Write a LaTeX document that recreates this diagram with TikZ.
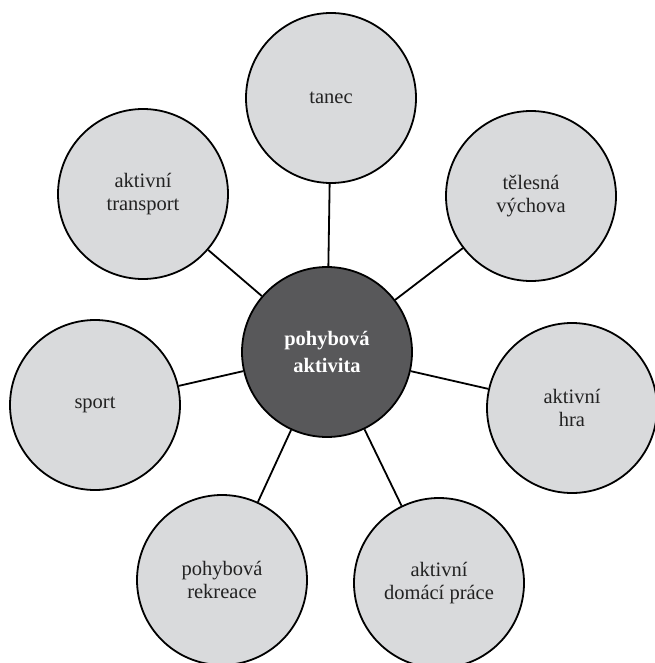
\documentclass[tikz,border=0pt]{standalone}
\usepackage{fontspec}
\setmainfont{Liberation Serif}
\definecolor{outerfill}{HTML}{D9DADC}
\definecolor{centerfill}{HTML}{58585A}
\definecolor{txt}{HTML}{222222}
\begin{document}
\begin{tikzpicture}[x=1pt,y=-1pt,
  bubble/.style={circle,draw=black,line width=1.8pt,fill=outerfill,minimum size=170pt,inner sep=0pt,
    align=center,font=\fontsize{20.5}{22.5}\selectfont,text=txt},
  hub/.style={bubble,fill=centerfill,text=white,font=\fontsize{20.5}{27}\selectfont\bfseries},
  link/.style={line width=1.8pt,draw=black}]
\useasboundingbox (0,0) rectangle (654,663);
\node[hub] (c) at (327,352) {pohybová\\aktivita};
\node[bubble] (tanec) at (331,98) {tanec};
\node[bubble] (tv) at (531,196) {tělesná\\výchova};
\node[bubble] (hra) at (572,408) {aktivní\\hra};
\node[bubble] (dom) at (439,583) {aktivní\\domácí práce};
\node[bubble] (rek) at (222,580) {pohybová\\rekreace};
\node[bubble] (sport) at (95,405) {sport};
\node[bubble] (trans) at (143,194) {aktivní\\transport};
\foreach \n in {tanec,tv,hra,dom,rek,sport,trans}{\draw[link] (c) -- (\n);}
\end{tikzpicture}
\end{document}
